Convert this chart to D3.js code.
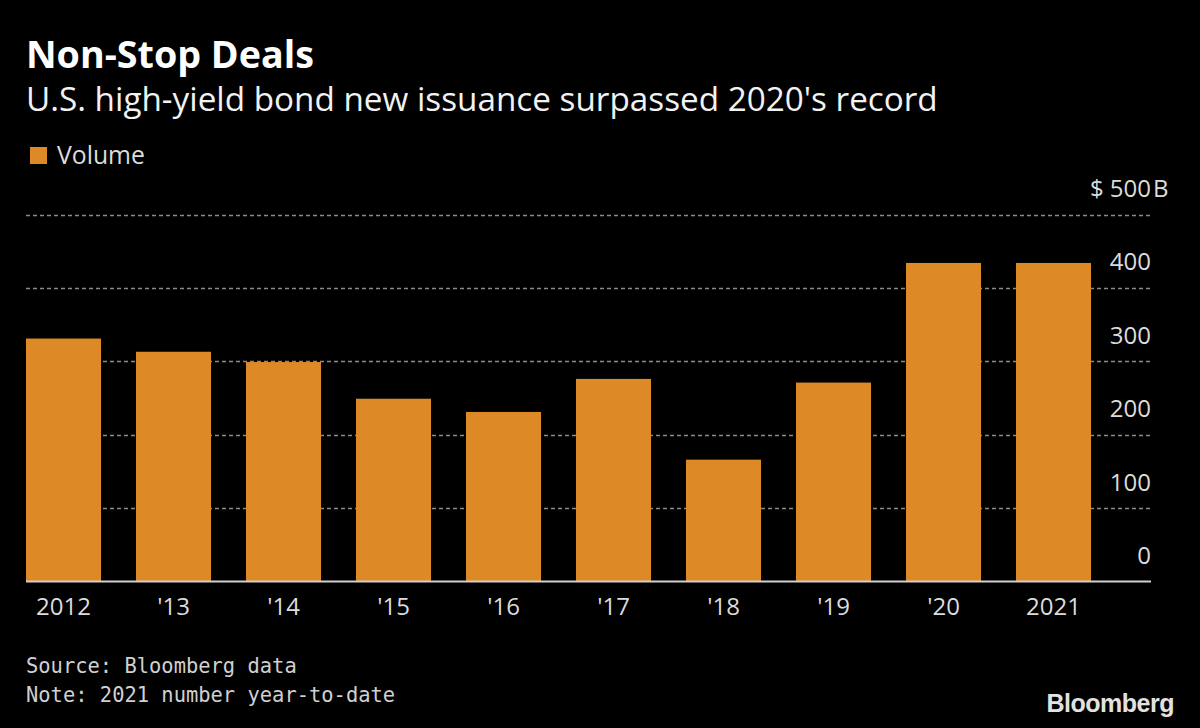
<!DOCTYPE html>
<html>
<head>
<meta charset="utf-8">
<script src="https://cdn.jsdelivr.net/npm/d3@7"></script>
<style>
  html, body { margin: 0; padding: 0; background: #000; }
  svg { display: block; }
</style>
</head>
<body>
<svg id="chart" width="1200" height="728"></svg>
<script>
// ---- data ----
const categories = ["2012", "'13", "'14", "'15", "'16", "'17", "'18", "'19", "'20", "2021"];
const volume = [331, 313, 299, 249, 231, 276, 166, 271, 434, 434];
const yTicks = [0, 100, 200, 300, 400, 500];
const titleText = "Non-Stop Deals";
const subtitleText = "U.S. high-yield bond new issuance surpassed 2020's record";
const legendLabel = "Volume";
const sourceLines = ["Source: Bloomberg data", "Note: 2021 number year-to-date"];

// ---- setup ----
const W = 1200, H = 728;
const svg = d3.select("#chart");
svg.append("rect").attr("width", W).attr("height", H).attr("fill", "#000");

const FONT = "'Open Sans', 'DejaVu Sans', sans-serif";
const MONO = "'DejaVu Sans Mono', 'Liberation Mono', monospace";
const barColor = "#DD8A26";

function fit(sel, target) {
  const node = sel.node();
  const w = node.getComputedTextLength();
  const fs = parseFloat(sel.attr("font-size"));
  if (w > 0) sel.attr("font-size", (fs * target / w).toFixed(2));
  return parseFloat(sel.attr("font-size"));
}

// title
const title = svg.append("text").attr("x", 26).attr("y", 68)
  .attr("font-family", FONT).attr("font-weight", 700).attr("font-size", 33)
  .attr("fill", "#fff").text(titleText);
fit(title, 288);

const sub = svg.append("text").attr("x", 26).attr("y", 111)
  .attr("font-family", FONT).attr("font-size", 27)
  .attr("fill", "#f2f2f2").text(subtitleText);
fit(sub, 912);

// legend
svg.append("rect").attr("x", 30).attr("y", 147).attr("width", 17).attr("height", 17).attr("fill", barColor);
const leg = svg.append("text").attr("x", 57).attr("y", 164)
  .attr("font-family", FONT).attr("font-size", 24)
  .attr("fill", "#dcdcdc").text(legendLabel);
fit(leg, 88);

// scales
const x = d3.scaleBand().domain(categories).range([26, 1091]).paddingInner(35 / 110).paddingOuter(0);
const y = d3.scaleLinear().domain([0, 500]).range([581.5, 214.5]);

// gridlines
const gridX0 = 26, gridX1 = 1151;
svg.append("g").selectAll("line").data(yTicks.filter(d => d > 0)).join("line")
  .attr("x1", gridX0).attr("x2", gridX1)
  .attr("y1", d => Math.round(y(d)) + 0.5).attr("y2", d => Math.round(y(d)) + 0.5)
  .attr("stroke", "#8a8a8a").attr("stroke-width", 1.5)
  .attr("stroke-dasharray", "4,3");

// bars
svg.append("g").selectAll("rect").data(categories).join("rect")
  .attr("x", d => x(d))
  .attr("width", x.bandwidth())
  .attr("y", (d, i) => y(volume[i]))
  .attr("height", (d, i) => y(0) - y(volume[i]))
  .attr("fill", barColor);

// baseline
svg.append("line").attr("x1", gridX0).attr("x2", gridX1)
  .attr("y1", y(0)).attr("y2", y(0))
  .attr("stroke", "#d0d0d0").attr("stroke-width", 2);

// y axis labels (right side, above lines)
const yAxis = d3.axisRight(y).tickValues(yTicks).tickSize(0)
  .tickFormat(d => d === 500 ? "$ 500" : String(d));
const yg = svg.append("g").attr("transform", `translate(${gridX1},0)`).call(yAxis);
yg.select(".domain").remove();
yg.selectAll("text")
  .attr("x", 0).attr("dy", 0)
  .attr("transform", "translate(0,-18)")
  .attr("text-anchor", "end")
  .attr("font-family", FONT).attr("font-size", 24)
  .attr("fill", "#dcdcdc");
// "B" unit suffix
svg.append("text").attr("x", gridX1 + 2).attr("y", y(500) - 18)
  .attr("font-family", FONT).attr("font-size", 24)
  .attr("fill", "#dcdcdc").text("B");

// x axis labels
const xAxis = d3.axisBottom(x).tickSize(0).tickPadding(0);
const xg = svg.append("g").attr("transform", `translate(0,${y(0)})`).call(xAxis);
xg.select(".domain").remove();
xg.selectAll("text")
  .attr("y", 0).attr("dy", 0)
  .attr("transform", "translate(0,33)")
  .attr("font-family", FONT).attr("font-size", 24)
  .attr("fill", "#dcdcdc");

// source / notes (monospaced, same size for both lines)
const srcSel = sourceLines.map((t, i) => svg.append("text").attr("x", 26).attr("y", 673 + i * 29)
  .attr("font-family", MONO).attr("font-size", 20.4)
  .attr("fill", "#d0d0d0").text(t));
const srcSize = fit(srcSel[1], 369);
srcSel.forEach(s => s.attr("font-size", srcSize));

// Bloomberg mark
svg.append("text").attr("x", 1174).attr("y", 712)
  .attr("text-anchor", "end")
  .attr("font-family", "'Liberation Sans', Arial, sans-serif").attr("font-weight", 700)
  .attr("font-size", 25).attr("fill", "#e2e2e2").attr("letter-spacing", -0.5).text("Bloomberg");
</script>
</body>
</html>
